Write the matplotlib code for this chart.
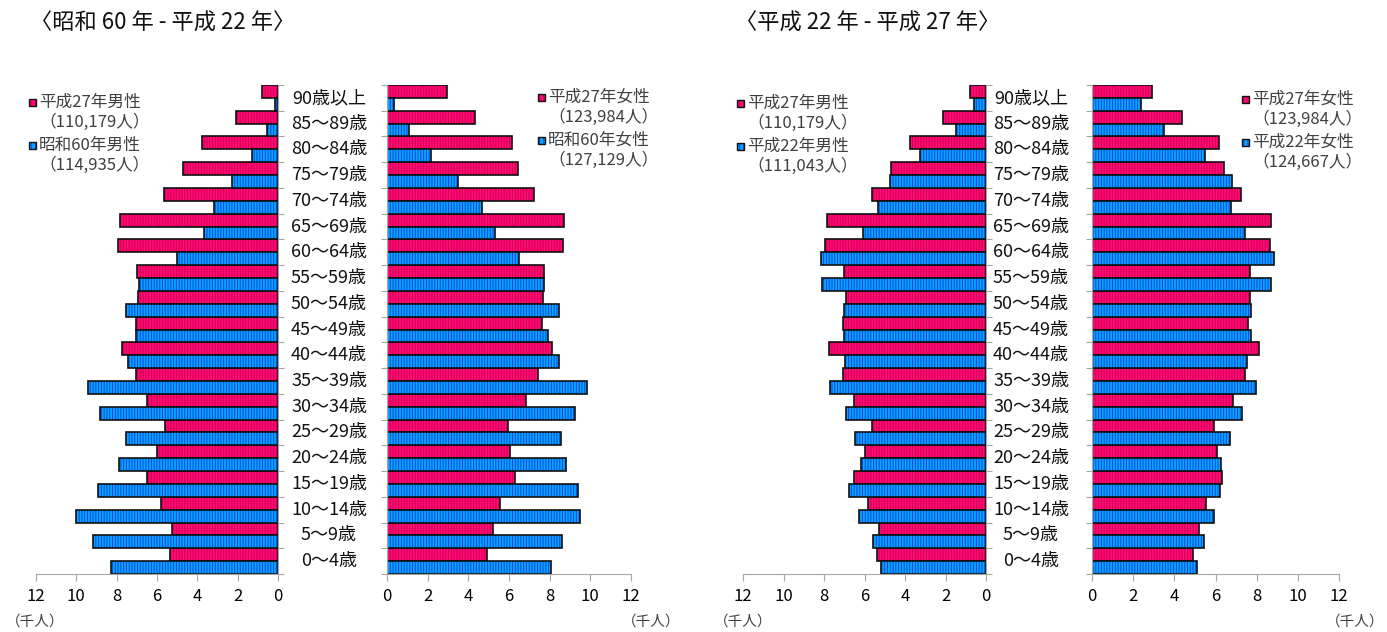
import matplotlib
matplotlib.use('Agg')
import matplotlib.pyplot as plt
from matplotlib.patches import Rectangle
import numpy as np

plt.rcParams['font.family'] = ['Noto Sans CJK JP', 'DejaVu Sans']
plt.rcParams['hatch.linewidth'] = 0.7

# 年齢階級（上から）
ages = ['90歳以上', '85～89歳', '80～84歳', '75～79歳', '70～74歳', '65～69歳',
        '60～64歳', '55～59歳', '50～54歳', '45～49歳', '40～44歳', '35～39歳',
        '30～34歳', '25～29歳', '20～24歳', '15～19歳', '10～14歳', '5～9歳', '0～4歳']

# 単位: 千人
male_h27 = [0.79, 2.10, 3.75, 4.70, 5.65, 7.85, 7.95, 7.00, 6.92, 7.05,
            7.75, 7.05, 6.52, 5.62, 6.00, 6.50, 5.82, 5.27, 5.37]
male_s60 = [0.15, 0.55, 1.29, 2.28, 3.17, 3.67, 5.00, 6.90, 7.54, 7.04,
            7.44, 9.42, 8.83, 7.54, 7.88, 8.92, 10.0, 9.17, 8.28]
male_h22 = [0.59, 1.48, 3.26, 4.74, 5.33, 6.07, 8.15, 8.10, 7.00, 7.00,
            6.96, 7.70, 6.91, 6.47, 6.17, 6.77, 6.27, 5.58, 5.19]
female_h27 = [2.93, 4.35, 6.15, 6.42, 7.25, 8.70, 8.65, 7.70, 7.66, 7.60,
              8.10, 7.42, 6.83, 5.93, 6.05, 6.30, 5.56, 5.20, 4.93]
female_s60 = [0.34, 1.08, 2.16, 3.49, 4.67, 5.31, 6.49, 7.72, 8.46, 7.92,
              8.46, 9.84, 9.25, 8.56, 8.80, 9.40, 9.49, 8.61, 8.07]
female_h22 = [2.37, 3.48, 5.47, 6.82, 6.77, 7.45, 8.85, 8.71, 7.74, 7.74,
              7.55, 7.98, 7.30, 6.72, 6.29, 6.24, 5.95, 5.42, 5.08]

xticks = [0, 2, 4, 6, 8, 10, 12]

PINK, PINK_H = '#ff0878', '#d0004a'
BLUE, BLUE_H = '#0aa4ff', '#0048e0'
GRAY = '#a6a6a6'

W, H = 1387, 632
fig = plt.figure(figsize=(W / 100, H / 100), dpi=100)


def fx(x):
    return x / W


def fy(y):
    return 1 - y / H


def hbars(ax, y, vals, face, hcol):
    ax.barh(y, vals, height=0.5, color=face, edgecolor=hcol, hatch='||||||', linewidth=0)
    ax.barh(y, vals, height=0.5, fill=False, edgecolor='#111111', linewidth=1.2)


def pyramid_side(x0, x1, top_vals, bot_vals, male):
    ax = fig.add_axes([fx(x0), fy(574), fx(x1 - x0), (574 - 85) / H])
    n = len(ages)
    pos = np.arange(n)[::-1]
    hbars(ax, pos + 0.25, top_vals, PINK, PINK_H)
    hbars(ax, pos - 0.25, bot_vals, BLUE, BLUE_H)
    ax.set_ylim(-0.5, n - 0.5)
    ax.set_yticks(np.arange(n + 1) - 0.5)
    ax.set_yticklabels([])
    ax.set_xticks(xticks)
    ax.tick_params(axis='x', colors=GRAY, labelcolor='black', length=5, pad=5, labelsize=12)
    ax.tick_params(axis='y', colors=GRAY, length=4)
    for s in ax.spines.values():
        s.set_color(GRAY)
    ax.spines['top'].set_visible(False)
    if male:
        ax.set_xlim(12, 0)
        ax.spines['left'].set_visible(False)
        ax.yaxis.tick_right()
    else:
        ax.set_xlim(0, 12)
        ax.spines['right'].set_visible(False)
    return ax


def legend_item(x, y, face, hcol, line1, line2):
    fig.patches.append(Rectangle((fx(x), fy(y + 3.5)), 7 / W, 7 / H, transform=fig.transFigure,
                                 facecolor=face, edgecolor=hcol, hatch='||||', linewidth=0))
    fig.patches.append(Rectangle((fx(x), fy(y + 3.5)), 7 / W, 7 / H, transform=fig.transFigure,
                                 fill=False, edgecolor='#111111', linewidth=1.0))
    fig.text(fx(x + 10), fy(y), line1, fontsize=12, color='#404040', va='center', ha='left')
    fig.text(fx(x + 10), fy(y + 20), line2, fontsize=12, color='#404040', va='center', ha='left')


# 左: 昭和60年 - 平成27年
pyramid_side(36, 278, male_h27, male_s60, True)
pyramid_side(387, 631, female_h27, female_s60, False)
# 右: 平成22年 - 平成27年
pyramid_side(743, 986, male_h27, male_h22, True)
pyramid_side(1092, 1339, female_h27, female_h22, False)

step = (574 - 85) / len(ages)
for i, a in enumerate(ages):
    yc = 85 + step * (i + 0.5)
    fig.text(fx(329), fy(yc), a, fontsize=13, ha='center', va='center', color='#111111')
    fig.text(fx(1031), fy(yc), a, fontsize=13, ha='center', va='center', color='#111111')

legend_item(29, 102, PINK, PINK_H, '平成27年男性', '（110,179人）')
legend_item(29, 145, BLUE, BLUE_H, '昭和60年男性', '（114,935人）')
legend_item(538, 97, PINK, PINK_H, '平成27年女性', '（123,984人）')
legend_item(538, 140, BLUE, BLUE_H, '昭和60年女性', '（127,129人）')
legend_item(737, 103, PINK, PINK_H, '平成27年男性', '（110,179人）')
legend_item(737, 146, BLUE, BLUE_H, '平成22年男性', '（111,043人）')
legend_item(1242, 99, PINK, PINK_H, '平成27年女性', '（123,984人）')
legend_item(1242, 142, BLUE, BLUE_H, '平成22年女性', '（124,667人）')

for x in [6, 622, 714, 1326]:
    fig.text(fx(x), fy(622), '（千人）', fontsize=10.5, color='#404040', va='center', ha='left')

fig.text(fx(30), fy(23), '〈昭和 60 年 - 平成 22 年〉', fontsize=16, va='center', ha='left', color='#111111')
fig.text(fx(735), fy(23), '〈平成 22 年 - 平成 27 年〉', fontsize=16, va='center', ha='left', color='#111111')

fig.savefig('out.png', dpi=100)
